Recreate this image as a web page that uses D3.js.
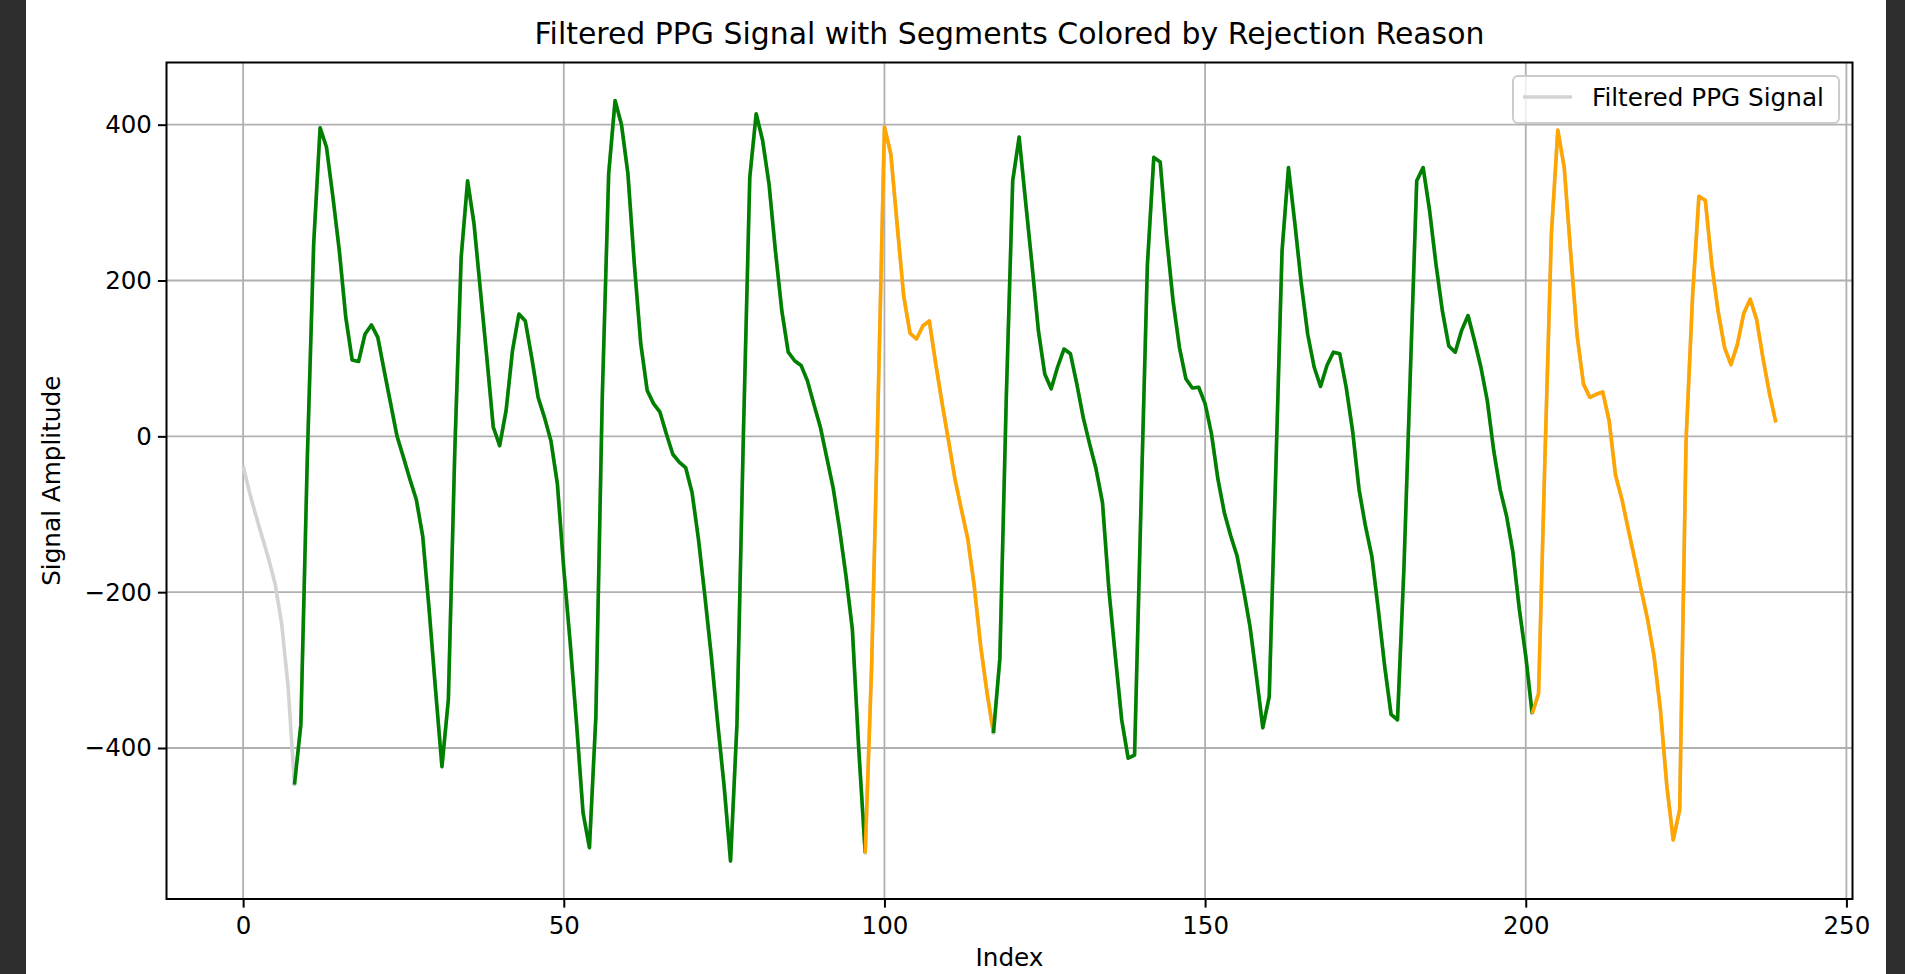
<!DOCTYPE html>
<html>
<head>
<meta charset="utf-8">
<script src="https://cdn.jsdelivr.net/npm/d3@7"></script>
<style>
  body { margin: 0; background: #2d2d2d; overflow: hidden; }
  svg { display: block; font-family: "DejaVu Sans", sans-serif; }
</style>
</head>
<body>
<div id="ppg-chart"></div>
<script>

// filtered PPG samples, one per index
const ppgSignal = [
  -38, -72, -102, -130, -158, -190, -240, -320, -447, -370,
  -30, 247, 396, 371, 307, 238, 153, 98, 96, 131,
  143, 127, 84, 42, 0, -27, -55, -81, -128, -222,
  -325, -424, -338, -20, 230, 328, 273, 187, 101, 12,
  -12, 33, 110, 157, 148, 101, 50, 24, -6, -61,
  -170, -265, -370, -483, -528, -360, 50, 337, 431, 400,
  337, 221, 119, 59, 42, 31, 3, -23, -33, -40,
  -72, -132, -205, -282, -368, -449, -545, -370, 0, 332,
  414, 380, 324, 238, 161, 108, 97, 91, 71, 41,
  12, -27, -66, -119, -179, -248, -402, -535, -295, 40,
  397, 362, 270, 180, 132, 125, 142, 148, 93, 42,
  -6, -55, -94, -132, -192, -269, -329, -381, -285, 50,
  328, 384, 302, 221, 136, 80, 61, 89, 112, 106,
  67, 24, -10, -42, -85, -197, -282, -364, -413, -409,
  -90, 220, 358, 352, 255, 174, 114, 74, 62, 63,
  42, 3, -55, -98, -128, -154, -197, -244, -308, -374,
  -334, -50, 238, 345, 273, 196, 131, 89, 64, 91,
  108, 106, 63, 7, -68, -115, -154, -222, -295, -357,
  -364, -170, 80, 328, 345, 290, 221, 161, 116, 108,
  136, 155, 123, 89, 46, -18, -68, -102, -149, -222,
  -282, -356, -330, -25, 260, 393, 345, 236, 130, 67,
  50, 54, 57, 20, -50, -81, -120, -158, -197, -235,
  -282, -351, -449, -518, -479, -5, 178, 308, 303, 221,
  160, 114, 92, 118, 158, 176, 150, 100, 55, 18
];

// coloured segments (start / end index, inclusive)
const segStart = [8, 97, 117, 201];
const segEnd = [97, 117, 201, 239];
const segColor = ["green", "orange", "green", "orange"];

// tick values and labels
const xTicks = [0, 50, 100, 150, 200, 250];
const yTicks = [-400, -200, 0, 200, 400];
const titleText = "Filtered PPG Signal with Segments Colored by Rejection Reason";
const xLabel = "Index";
const yLabel = "Signal Amplitude";
const legendLabel = "Filtered PPG Signal";

const width = 1905;
const height = 974;
const margin = { top: 62.5, right: 52.5, bottom: 75, left: 166.5 };

const svg = d3
  .select("#ppg-chart")
  .append("svg")
  .attr("width", width)
  .attr("height", height);

// white figure area
svg.append("rect")
  .attr("x", 26)
  .attr("y", 0)
  .attr("width", 1860)
  .attr("height", height)
  .attr("fill", "#ffffff");

/*

  Scales (matplotlib style 5% padding)

*/

let n = ppgSignal.length;
let xPad = (n - 1) * 0.05;
let minY = d3.min(ppgSignal);
let maxY = d3.max(ppgSignal);
let yPad = (maxY - minY) * 0.05;

let xScale = d3.scaleLinear()
  .domain([-xPad, n - 1 + xPad])
  .range([margin.left, width - margin.right]);

let yScale = d3.scaleLinear()
  .domain([minY - yPad, maxY + yPad])
  .range([height - margin.bottom, margin.top]);

let x0 = margin.left, x1 = width - margin.right;
let y0 = margin.top, y1 = height - margin.bottom;

// grid lines
svg.append("g")
  .selectAll("line")
  .data(xTicks)
  .enter()
  .append("line")
    .attr("x1", d => xScale(d))
    .attr("x2", d => xScale(d))
    .attr("y1", y0)
    .attr("y2", y1)
    .attr("stroke", "#b0b0b0")
    .attr("stroke-width", 1.8);

svg.append("g")
  .selectAll("line")
  .data(yTicks)
  .enter()
  .append("line")
    .attr("x1", x0)
    .attr("x2", x1)
    .attr("y1", d => yScale(d))
    .attr("y2", d => yScale(d))
    .attr("stroke", "#b0b0b0")
    .attr("stroke-width", 1.8);

/*

  Lines

*/

let line = d3.line()
  .x(d => xScale(d.i))
  .y(d => yScale(d.v));

let points = ppgSignal.map((v, i) => ({ i: i, v: v }));

// full filtered signal underneath
svg.append("path")
  .datum(points)
  .attr("d", line)
  .attr("fill", "none")
  .attr("stroke", "lightgray")
  .attr("stroke-width", 3.6)
  .attr("stroke-linejoin", "round");

// segments coloured by rejection reason
segStart.forEach((s, k) => {
  svg.append("path")
    .datum(points.slice(s, segEnd[k] + 1))
    .attr("d", line)
    .attr("fill", "none")
    .attr("stroke", segColor[k])
    .attr("stroke-width", 3.6)
    .attr("stroke-linejoin", "round");
});

/*

  Axes

*/

let xAxis = svg.append("g")
  .attr("transform", `translate(0,${y1})`)
  .call(d3.axisBottom(xScale).tickValues(xTicks).tickSize(8.6).tickPadding(6));

let yAxis = svg.append("g")
  .attr("transform", `translate(${x0},0)`)
  .call(d3.axisLeft(yScale).tickValues(yTicks).tickSize(8.6).tickPadding(6));

[xAxis, yAxis].forEach(ax => {
  ax.select(".domain").remove();
  ax.selectAll(".tick line").attr("stroke", "#000").attr("stroke-width", 2);
  ax.selectAll(".tick text")
    .attr("fill", "#000")
    .style("font-family", "DejaVu Sans")
    .style("font-size", "24.5px");
});

xAxis.selectAll(".tick text").attr("dy", 0).attr("y", 35);

// frame
svg.append("rect")
  .attr("x", x0)
  .attr("y", y0)
  .attr("width", x1 - x0)
  .attr("height", y1 - y0)
  .attr("fill", "none")
  .attr("stroke", "#000")
  .attr("stroke-width", 2);

/*

  Text

*/

svg.append("text")
  .attr("x", (x0 + x1) / 2)
  .attr("y", 44)
  .attr("text-anchor", "middle")
  .style("font-size", "29.9px")
  .text(titleText);

svg.append("text")
  .attr("x", (x0 + x1) / 2)
  .attr("y", 966)
  .attr("text-anchor", "middle")
  .style("font-size", "24.7px")
  .text(xLabel);

svg.append("text")
  .attr("transform", `translate(60,${(y0 + y1) / 2}) rotate(-90)`)
  .attr("text-anchor", "middle")
  .style("font-size", "24.7px")
  .text(yLabel);

// legend
let legend = svg.append("g").attr("transform", "translate(1513,76)");

legend.append("rect")
  .attr("width", 326)
  .attr("height", 47)
  .attr("rx", 5)
  .attr("fill", "#ffffff")
  .attr("fill-opacity", 0.8)
  .attr("stroke", "#cccccc")
  .attr("stroke-width", 2);

legend.append("line")
  .attr("x1", 10)
  .attr("x2", 59)
  .attr("y1", 21)
  .attr("y2", 21)
  .attr("stroke", "lightgray")
  .attr("stroke-width", 3.6);

legend.append("text")
  .attr("x", 79)
  .attr("y", 30)
  .style("font-size", "24.7px")
  .text(legendLabel);

</script>
</body>
</html>
